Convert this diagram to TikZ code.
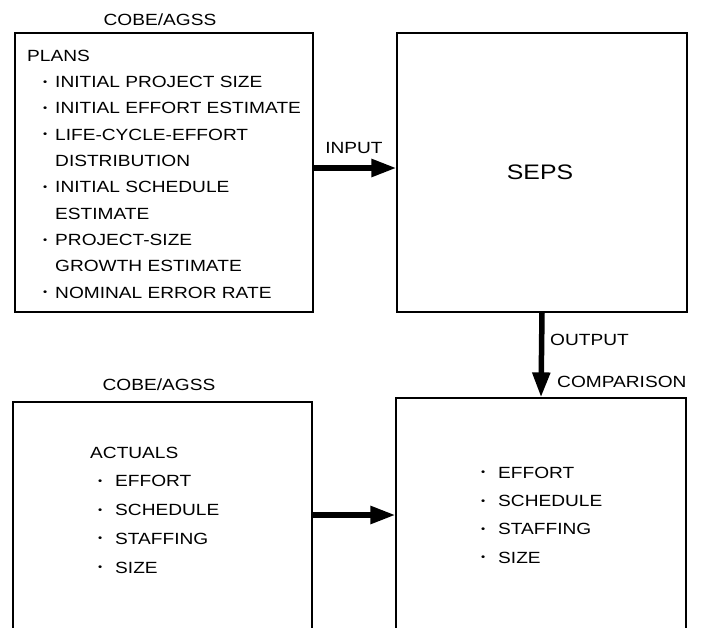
\documentclass[tikz,border=0pt]{standalone}
\usepackage{fontspec}
\setmainfont{Liberation Sans}[FakeStretch=1.18]
\usepackage{tikz}
\usetikzlibrary{arrows.meta}

% bullet: #1 = gap before the dot, #2 = width up to the text
\newcommand\bul[2]{\makebox[#2][l]{\hspace*{#1}{\fontsize{10}{10}\selectfont\raisebox{2.4pt}{•}}}}

\begin{document}
\begin{tikzpicture}[x=1pt, y=-1pt,
    box/.style={draw, line width=1.2pt, inner sep=0pt},
    txt/.style={font=\fontsize{16.2}{26.3}\selectfont, inner sep=0pt},
    flow/.style={line width=5.5pt, -{Triangle[length=25pt,width=17pt]}}]
  \useasboundingbox (0,0) rectangle (702,627);
  \clip (0,0) rectangle (702,627);

  % Kästen
  \node[box, minimum width=298pt, minimum height=279pt] (plans) at (164,172.5) {};
  \node[box, minimum width=290pt, minimum height=279pt] (seps) at (542,172.5) {};
  \node[box, minimum width=299pt, minimum height=248pt] (actuals) at (162.5,526) {};
  \node[box, minimum width=290pt, minimum height=252pt] (comparison) at (541,524) {};

  % Inhalt oben links (Anker an der letzten Zeile)
  \node[txt, anchor=base west, align=left] (planslist) at (27,298)
    {PLANS\\
     \bul{16pt}{28pt}INITIAL PROJECT SIZE\\
     \bul{16pt}{28pt}INITIAL EFFORT ESTIMATE\\
     \bul{16pt}{28pt}LIFE-CYCLE-EFFORT\\
     \hspace*{28pt}DISTRIBUTION\\
     \bul{16pt}{28pt}INITIAL SCHEDULE\\
     \hspace*{28pt}ESTIMATE\\
     \bul{16pt}{28pt}PROJECT-SIZE\\
     \hspace*{28pt}GROWTH ESTIMATE\\
     \bul{16pt}{28pt}NOMINAL ERROR RATE};
  \node[txt, font=\fontsize{21}{21}\selectfont] (sepsname) at (540,172) {SEPS};

  % Inhalt unten
  \node[txt, font=\fontsize{16.2}{28.75}\selectfont, anchor=base west, align=left] (actualslist) at (90,573)
    {ACTUALS\\
     \bul{8pt}{25pt}EFFORT\\
     \bul{8pt}{25pt}SCHEDULE\\
     \bul{8pt}{25pt}STAFFING\\
     \bul{8pt}{25pt}SIZE};
  \node[txt, font=\fontsize{16.2}{28.3}\selectfont, anchor=base west, align=left] (comparisonlist) at (473,563)
    {\bul{8pt}{25pt}EFFORT\\
     \bul{8pt}{25pt}SCHEDULE\\
     \bul{8pt}{25pt}STAFFING\\
     \bul{8pt}{25pt}SIZE};

  % Überschriften
  \node[txt] (planstitle) at (160,20) {COBE/AGSS};
  \node[txt] (actualstitle) at (159,385) {COBE/AGSS};
  \node[txt] (inputlabel) at (354,148) {INPUT};
  \node[txt, anchor=west] (outputlabel) at (550,340) {OUTPUT};
  \node[txt, anchor=west] (comparisontitle) at (557,382) {COMPARISON};

  % Pfeile
  \draw[flow] ([yshift=4.5pt]plans.east) -- ([yshift=4.5pt]seps.west);
  \draw[flow] (seps.south) -- (comparison.north);
  \draw[flow] ([yshift=11pt]actuals.east) -- ([yshift=9pt]comparison.west);
\end{tikzpicture}
\end{document}
